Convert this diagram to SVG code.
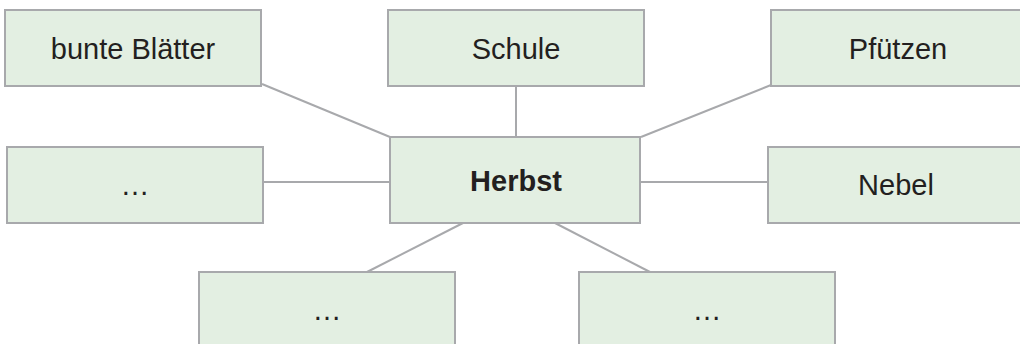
<svg xmlns="http://www.w3.org/2000/svg" width="1020" height="344" viewBox="0 0 1020 344">
<style>
.box{fill:#e3efe2;stroke:#a8a9ac;stroke-width:2}
.lbl{font-family:"Liberation Sans",Arial,sans-serif;font-size:29px;fill:#231f20;text-anchor:middle}
.bold{font-weight:bold}
.conn{stroke:#a8a9ac;stroke-width:2;fill:none}
</style>
<rect width="1020" height="344" fill="#ffffff"/>
<g id="connectors">
<line class="conn" x1="262" y1="84" x2="390" y2="137"/>
<line class="conn" x1="516" y1="86" x2="516" y2="137"/>
<line class="conn" x1="641" y1="137" x2="771" y2="85"/>
<line class="conn" x1="263" y1="182" x2="390" y2="182"/>
<line class="conn" x1="640" y1="182" x2="768" y2="182"/>
<line class="conn" x1="463" y1="223" x2="367" y2="272"/>
<line class="conn" x1="555" y1="223" x2="650" y2="272"/>
</g>
<g id="node-bunte-blaetter">
<rect class="box" x="5" y="10" width="256" height="76"/>
<text class="lbl" x="133" y="59">bunte Blätter</text>
</g>
<g id="node-schule">
<rect class="box" x="388" y="10" width="256" height="76"/>
<text class="lbl" x="516" y="59">Schule</text>
</g>
<g id="node-pfuetzen">
<rect class="box" x="771" y="10" width="270" height="76"/>
<text class="lbl" x="898" y="59">Pfützen</text>
</g>
<g id="node-left">
<rect class="box" x="7" y="147" width="256" height="76"/>
<text class="lbl" x="135" y="195">…</text>
</g>
<g id="node-herbst">
<rect class="box" x="390" y="137" width="250" height="86"/>
<text class="lbl bold" x="516" y="191">Herbst</text>
</g>
<g id="node-nebel">
<rect class="box" x="768" y="147" width="270" height="76"/>
<text class="lbl" x="896" y="195">Nebel</text>
</g>
<g id="node-bottom-left">
<rect class="box" x="199" y="272" width="256" height="90"/>
<text class="lbl" x="327" y="320">…</text>
</g>
<g id="node-bottom-right">
<rect class="box" x="579" y="272" width="256" height="90"/>
<text class="lbl" x="707" y="320">…</text>
</g>
</svg>
